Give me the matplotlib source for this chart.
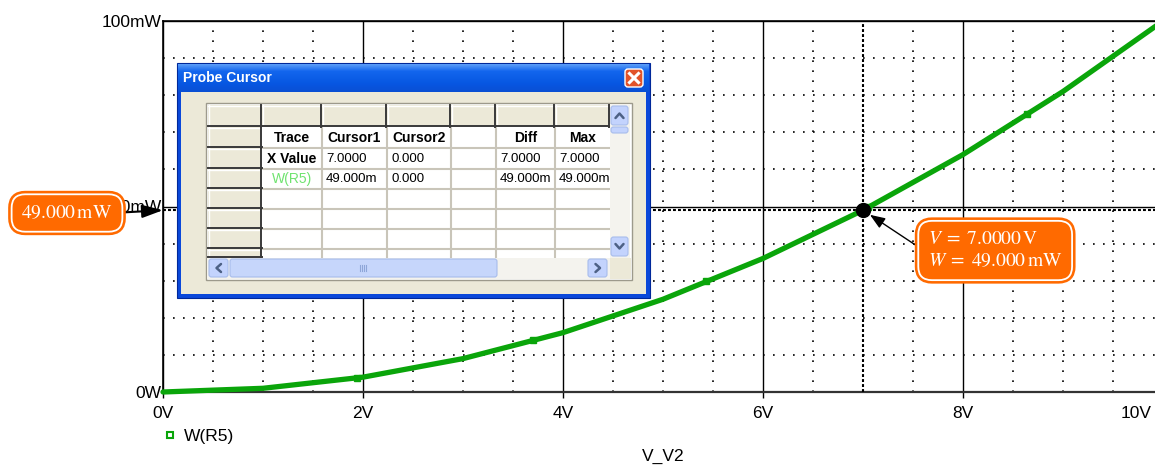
import numpy as np
import matplotlib.pyplot as plt
import matplotlib.patheffects as pe
from matplotlib.colors import LinearSegmentedColormap
from matplotlib.lines import Line2D
from matplotlib.patches import Rectangle, FancyBboxPatch
from matplotlib.ticker import MultipleLocator

plt.rcParams['font.family'] = ['Liberation Sans', 'DejaVu Sans']
plt.rcParams['mathtext.fontset'] = 'stix'

# DC sweep of V2, power dissipated in R5 (mW)
v_sweep = [0, 1, 2, 3, 4, 5, 6, 7, 8, 9, 10]
p_r5_mw = [0, 1, 4, 9, 16, 25, 36, 49, 64, 81, 100]

# trace symbols along W(R5)
marker_v = [1.94, 3.70, 5.43, 7.05, 8.64]
marker_mw = [3.8, 13.9, 29.8, 49.8, 74.9]

# probe cursor 1 / cursor 2
cursor1 = (7.0, 49.0)
cursor2 = (0.0, 0.0)

x_ticks = [0, 2, 4, 6, 8, 10]
x_tick_labels = ['0V', '2V', '4V', '6V', '8V', '10V']
y_ticks = [0, 50, 100]
y_tick_labels = ['0W', '50mW', '100mW']

trace_name = 'W(R5)'
sweep_name = 'V_V2'

W, H = 1155, 467
GREEN = '#0aa50a'
ORANGE = '#ff6a00'
BEIGE = '#ece9d8'

fig = plt.figure(figsize=(W / 100, H / 100), dpi=100)
ax = fig.add_axes([163 / W, 75 / H, 1000 / W, 371 / H])

ax.plot(v_sweep, p_r5_mw, color=GREEN, lw=3.8, solid_joinstyle='round',
        solid_capstyle='round', zorder=4, clip_on=False)
ax.plot(marker_v, marker_mw, ls='none', marker='s', ms=5, mfc=GREEN,
        mec=GREEN, zorder=5)

# cursor cross-hair
ax.axvline(cursor1[0], color='k', lw=1.5, ls=(0, (1.4, 1)), zorder=3)
ax.axhline(cursor1[1], color='k', lw=1.5, ls=(0, (1.4, 1)), zorder=3)
ax.plot(cursor1[0], cursor1[1], 'o', color='k', ms=10, zorder=6)

ax.set_xlim(0, 10)
ax.set_ylim(0, 100)
# the last label sits at the right edge, so it is drawn separately below
ax.set_xticks(x_ticks, x_tick_labels[:-1] + [''])
ax.set_yticks(y_ticks, y_tick_labels)
ax.xaxis.set_minor_locator(MultipleLocator(0.5))
ax.yaxis.set_minor_locator(MultipleLocator(10))
ax.tick_params(axis='x', which='major', length=4.3, width=1, pad=5.5,
               labelsize=12.5, colors='k')
ax.tick_params(axis='y', which='major', length=0, pad=1, labelsize=12.5)
ax.tick_params(which='minor', length=0)
ax.annotate(x_tick_labels[-1], xy=(x_ticks[-1], 0), xytext=(-8, -9.8),
            textcoords='offset points', ha='right', va='top', fontsize=12.5,
            annotation_clip=False)
ax.grid(which='major', color='k', lw=1.0, ls='-')
ax.grid(which='minor', color='k', lw=1.2, ls=(0, (1, 5)))
ax.set_axisbelow(True)
for s in ['left', 'top']:
    ax.spines[s].set_linewidth(1.2)
ax.spines['bottom'].set_linewidth(1.6)
ax.spines['bottom'].set_color('#333333')
ax.spines['right'].set_visible(False)
ax.set_xlabel(sweep_name, fontsize=12.5, labelpad=20)

handle = Line2D([], [], ls='none', marker='s', ms=5, mfc='none', mec=GREEN,
                mew=1.5, label=trace_name)
ax.legend(handles=[handle], loc='center left', bbox_to_anchor=(163 / W, 31 / H),
          bbox_transform=fig.transFigure, frameon=False, fontsize=12.5,
          handlelength=0.8, handletextpad=0.4, borderpad=0, borderaxespad=0)

# value flags
box = dict(boxstyle='round,pad=0.5,rounding_size=0.7', fc=ORANGE, ec='white', lw=1.3)
left = ax.annotate(rf'${cursor1[1]:.3f}\,\mathrm{{mW}}$', xy=(0, cursor1[1]),
                   xytext=(67, H - 213), textcoords='figure pixels',
                   ha='center', va='center', fontsize=14, color='white', bbox=box,
                   arrowprops=dict(arrowstyle='-|>,head_length=0.9,head_width=0.28',
                                   color='k', lw=1.5, relpos=(1, 0.5),
                                   shrinkA=0, shrinkB=0),
                   annotation_clip=False, zorder=8)
right = ax.annotate(rf'$V\;=\;{cursor1[0]:.4f}\,\mathrm{{V}}$' + '\n'
                    + rf'$W\;=\;{cursor1[1]:.3f}\,\mathrm{{mW}}$',
                    xy=cursor1, xytext=(928, H - 250.5), textcoords='figure pixels',
                    ha='left', va='center', fontsize=14, color='white', bbox=box,
                    linespacing=1.35,
                    arrowprops=dict(arrowstyle='-|>,head_length=0.65,head_width=0.25',
                                    color='k', lw=1.0, relpos=(0, 0.43),
                                    shrinkA=0, shrinkB=6),
                    annotation_clip=False, zorder=8)
for a in (left, right):
    a.get_bbox_patch().set_path_effects([pe.withStroke(linewidth=5, foreground=ORANGE)])

# Probe Cursor window, drawn in pixel coordinates
ov = fig.add_axes([0, 0, 1, 1], zorder=5)
ov.axis('off')


def rect(x0, y0, x1, y1, fc, ec='none', lw=0.0, z=1):
    ov.add_patch(Rectangle((x0, y0), x1 - x0, y1 - y0, fc=fc, ec=ec, lw=lw, zorder=z))


def button(x0, y0, x1, y1, fc='#c3d3fd', z=6):
    ov.add_patch(FancyBboxPatch((x0, y0), x1 - x0, y1 - y0,
                                boxstyle='round,pad=0,rounding_size=2.5',
                                fc=fc, ec='#a7bcec', lw=0.8, zorder=z))


rect(177, 63, 650, 298, '#0a48da', ec='#00289a', lw=0.8)
title_cmap = LinearSegmentedColormap.from_list(
    'xp', [(0, '#5a9cf8'), (0.25, '#1366ee'), (0.7, '#0757e2'), (1, '#0a4fd4')])
ov.imshow(np.linspace(0, 1, 40).reshape(-1, 1), cmap=title_cmap, aspect='auto',
          extent=(178, 649, 92, 64), origin='upper', zorder=1.5)
rect(181, 92, 646, 294, BEIGE, z=2)
ov.text(183, 78, 'Probe Cursor', color='white', fontweight='bold', fontsize=10,
        ha='left', va='center', zorder=3)
ov.add_patch(FancyBboxPatch((625, 69), 18, 18, boxstyle='round,pad=0,rounding_size=3',
                            fc='#e2532a', ec='white', lw=1, zorder=3))
ov.plot([629.5, 638.5], [73.5, 82.5], color='white', lw=2.2, zorder=4)
ov.plot([629.5, 638.5], [82.5, 73.5], color='white', lw=2.2, zorder=4)

cx = [208, 262, 322, 387, 451, 496, 555, 610]
ry = [105, 127, 148, 169, 189, 209, 229, 249, 258]
rect(206, 103, 632, 280, 'white', ec='#9d9a8c', lw=1, z=2)

# white-cell grid lines
for y in ry[2:-1]:
    ov.plot([cx[1], cx[-1]], [y, y], color='#c9c5b9', lw=1.5, zorder=3)
for x in cx[2:-1]:
    ov.plot([x, x], [ry[1], ry[-1]], color='#c9c5b9', lw=1.5, zorder=3)


def header_cell(x0, y0, x1, y1):
    rect(x0, y0, x1, y1, BEIGE, z=3)
    ov.plot([x0, x1], [y0 + 0.5, y0 + 0.5], color='white', lw=1, zorder=3.2)
    ov.plot([x0 + 0.5, x0 + 0.5], [y0, y1], color='white', lw=1, zorder=3.2)
    ov.plot([x0, x1], [y1 - 0.8, y1 - 0.8], color='#3a3a3a', lw=1.4, zorder=3.3)
    ov.plot([x1 - 0.8, x1 - 0.8], [y0, y1], color='#3a3a3a', lw=1.4, zorder=3.3)


for j in range(len(cx) - 1):
    header_cell(cx[j], ry[0], cx[j + 1], ry[1])
for i in range(1, len(ry) - 1):
    header_cell(cx[0], ry[i], cx[1], ry[i + 1])

# table text
col_heads = ['Trace', 'Cursor1', 'Cursor2', '', 'Diff', 'Max']
x_vals = ['X Value', f'{cursor1[0]:.4f}', f'{cursor2[0]:.3f}', '',
          f'{cursor1[0] - cursor2[0]:.4f}', f'{max(cursor1[0], cursor2[0]):.4f}']
y_vals = [trace_name, f'{cursor1[1]:.3f}m', f'{cursor2[1]:.3f}', '',
          f'{cursor1[1] - cursor2[1]:.3f}m', f'{max(cursor1[1], cursor2[1]):.3f}m']
centered = {0, 4, 5}
for j, t in enumerate(col_heads):
    x0, x1 = cx[j + 1], cx[j + 2]
    if j in centered:
        ov.text((x0 + x1) / 2, 138.5, t, ha='center', va='center', fontsize=10,
                fontweight='bold', zorder=4)
    else:
        ov.text(x0 + 5, 138.5, t, ha='left', va='center', fontsize=10,
                fontweight='bold', zorder=4)
ov.text(cx[1] + 5, 159, x_vals[0], ha='left', va='center', fontsize=10,
        fontweight='bold', zorder=4)
ov.text((cx[1] + cx[2]) / 2, 179, y_vals[0], ha='center', va='center',
        fontsize=10, color='#6fe36f', zorder=4)
for j in range(1, 6):
    ov.text(cx[j + 1] + 4, 159, x_vals[j], ha='left', va='center', fontsize=9.5, zorder=4)
    ov.text(cx[j + 1] + 4, 179, y_vals[j], ha='left', va='center', fontsize=9.5, zorder=4)

# scrollbars
rect(610, 104, 630, 259, '#f4f3ee', z=5)
rect(207, 258, 610, 279, '#f4f3ee', z=5)
rect(610, 258, 631, 279, BEIGE, z=5)
button(611, 106, 628, 125)
button(611, 127, 628, 133)
button(611, 237, 628, 256)
button(209, 259, 228, 277)
button(230, 259, 497, 277, fc='#c6d6fb')
button(588, 259, 607, 277)
chev = dict(color='#4d6185', lw=1.8, zorder=7, solid_capstyle='round')
ov.plot([615.5, 619.5, 623.5], [118, 113.5, 118], **chev)
ov.plot([615.5, 619.5, 623.5], [244, 248.5, 244], **chev)
ov.plot([221, 216.5, 221], [264, 268, 272], **chev)
ov.plot([595.5, 600, 595.5], [264, 268, 272], **chev)
for gx in [360, 362, 364, 366]:
    ov.plot([gx, gx], [265, 271], color='#8ea6d8', lw=0.8, zorder=7)

ov.set_xlim(0, W)
ov.set_ylim(H, 0)

fig.savefig('out.png', dpi=100)
